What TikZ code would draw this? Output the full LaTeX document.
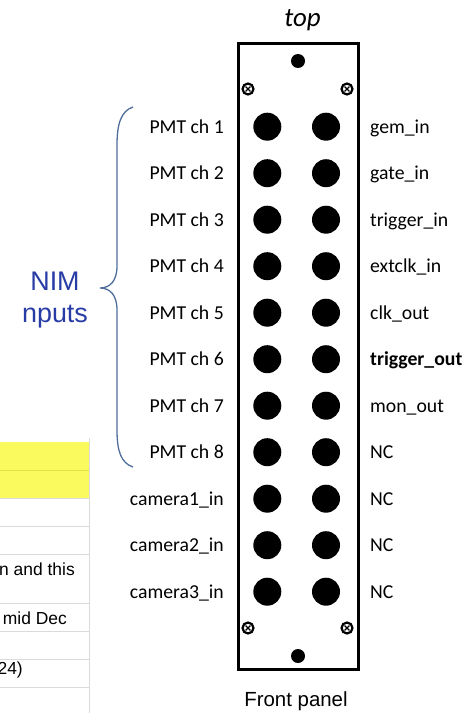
\documentclass[tikz,border=0pt]{standalone}
\usepackage{fontspec}
\setmainfont{Carlito}
\newfontfamily\arialfont{Liberation Sans}
\definecolor{nimblue}{RGB}{40,60,165}
\definecolor{bracecol}{RGB}{80,110,155}
\definecolor{gridgray}{RGB}{218,218,218}
\definecolor{xlyellow}{RGB}{250,250,95}
\definecolor{xlyellowline}{RGB}{225,225,70}
\tikzset{
  jack/.style={circle, fill=black, inner sep=0pt, minimum size=28bp},
  dot/.style={circle, fill=black, inner sep=0pt, minimum size=14bp},
  screw/.style={circle, draw=black, line width=2.2bp, inner sep=0pt, minimum size=11bp,
    path picture={\draw[line width=1.1bp, shift={(path picture bounding box.center)}]
      (-2.4bp,-2.4bp) -- (2.4bp,2.4bp) (-2.4bp,2.4bp) -- (2.4bp,-2.4bp);}},
  lab/.style={inner sep=0pt, font=\fontsize{19.8}{23}\selectfont},
  llab/.style={lab, anchor=base east},
  rlab/.style={lab, anchor=base west},
  cell/.style={inner sep=0pt, anchor=base east, font=\arialfont\fontsize{17.5}{20}\selectfont},
  grid/.style={draw=gridgray, line width=1bp},
  panel/.style={draw=black, line width=3bp},
}
\begin{document}
\begin{tikzpicture}[x=1bp, y=-1bp]
\useasboundingbox (0,0) rectangle (467,713);
\clip (0,0) rectangle (467,713);

% spreadsheet fragment
\fill[xlyellow] (0,442) rectangle (89,498);
\draw[draw=xlyellowline, line width=1bp] (0,470) -- (89,470);
\foreach \yy in {498,526,554,603,631,659,687}
  \draw[grid] (0,\yy) -- (89,\yy);
\draw[grid] (89,438) -- (89,713);
\node[cell] (t1) at (75,575) {n and this};
\node[cell] (t2) at (67,624) {mid Dec};
\node[cell] (t3) at (23,674) {24)};

% panel
\node[inner sep=0pt, anchor=base, font=\itshape\fontsize{27}{30}\selectfont] (top) at (302.5,27) {top};
\draw[panel] (238,44) rectangle (358,669);
\node[dot] (dtop) at (298,61) {};
\node[dot] (dbot) at (298,656) {};
\node[screw] (s1) at (248,89) {};
\node[screw] (s2) at (347,89) {};
\node[screw] (s3) at (248,628) {};
\node[screw] (s4) at (347,628) {};

\foreach \k/\ll/\rl in {0/PMT ch 1/gem\_in, 1/PMT ch 2/gate\_in, 2/PMT ch 3/trigger\_in,
  3/PMT ch 4/extclk\_in, 4/PMT ch 5/clk\_out, 5/PMT ch 6/\textbf{trigger\_out},
  6/PMT ch 7/mon\_out, 7/PMT ch 8/NC, 8/camera1\_in/NC, 9/camera2\_in/NC, 10/camera3\_in/NC}{
  \pgfmathsetmacro{\yy}{126.7+46.5*\k}
  \node[jack] (jl\k) at (267.3,\yy) {};
  \node[jack] (jr\k) at (326,\yy) {};
  \node[llab] (ll\k) at (224,\yy+6.5) {\ll};
  \node[rlab] (rl\k) at (370,\yy+6.5) {\rl};
}

\node[inner sep=0pt, anchor=base, font=\arialfont\fontsize{20.5}{24}\selectfont] (fp) at (296,706) {Front panel};

% brace
\coordinate (bt) at (133,107);
\coordinate (bb) at (133,467);
\coordinate (tip) at (100,288);
\draw[bracecol, line width=1.3bp] (bt) .. controls (121,111) and (117,124) .. (117,145)
  -- (117,266) .. controls (117,281) and (110,288) .. (tip)
  .. controls (110,288) and (117,295) .. (117,310)
  -- (117,430) .. controls (117,451) and (121,463) .. (bb);
\node[inner sep=0pt, align=center, text=nimblue, font=\arialfont\fontsize{27}{33}\selectfont] (nim) at (55,300) {NIM\\nputs};
\end{tikzpicture}
\end{document}
